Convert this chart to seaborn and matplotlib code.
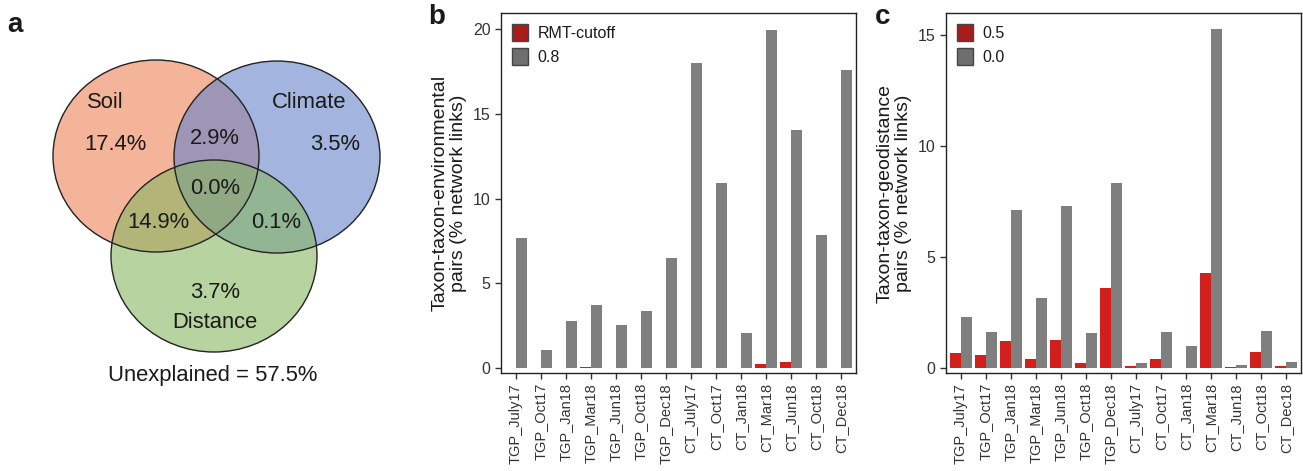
import numpy as np
import pandas as pd
import matplotlib
matplotlib.use('Agg')
import matplotlib.pyplot as plt
from matplotlib.patches import Ellipse, Patch
import seaborn as sns

## data
samples = ['TGP_July17', 'TGP_Oct17', 'TGP_Jan18', 'TGP_Mar18', 'TGP_Jun18', 'TGP_Oct18', 'TGP_Dec18',
           'CT_July17', 'CT_Oct17', 'CT_Jan18', 'CT_Mar18', 'CT_Jun18', 'CT_Oct18', 'CT_Dec18']

# panel b: taxon-taxon-environmental pairs
b_rmt = [0, 0, 0, 0.08, 0, 0, 0, 0, 0, 0, 0.25, 0.35, 0, 0]
b_08 = [7.7, 1.05, 2.8, 3.7, 2.55, 3.4, 6.5, 18.0, 10.95, 2.05, 19.95, 14.05, 7.85, 17.6]

# panel c: taxon-taxon-geodistance pairs
c_05 = [0.7, 0.6, 1.25, 0.4, 1.28, 0.25, 3.6, 0.08, 0.42, 0.02, 4.3, 0.06, 0.75, 0.1]
c_00 = [2.3, 1.65, 7.15, 3.15, 7.3, 1.6, 8.35, 0.25, 1.65, 1.0, 15.3, 0.13, 1.67, 0.27]

# panel a: variance partitioning (venn)
venn_labels = ['Soil', 'Climate', 'Distance']
venn_values = {'Soil': '17.4%', 'Climate': '3.5%', 'Distance': '3.7%',
               'Soil&Climate': '2.9%', 'Soil&Distance': '14.9%', 'Climate&Distance': '0.1%',
               'All': '0.0%'}
unexplained = '57.5%'

RED = '#D21F1B'
GRAY = '#7F7F7F'
INK = '#1A1A1A'

sns.set_theme(style='ticks')
plt.rcParams['font.family'] = ['Liberation Sans', 'DejaVu Sans']
plt.rcParams['text.color'] = INK

fig = plt.figure(figsize=(13.03, 4.71), dpi=100)

## ---- panel a : venn ----
axa = fig.add_axes([0, 0, 400 / 1303, 1])
axa.set_xlim(0, 400)
axa.set_ylim(471, 0)
axa.axis('off')

circ = {'Soil': ((156, 156), '#ED8257'),
        'Climate': ((277, 157), '#6682CA'),
        'Distance': ((214, 256), '#87B661')}
for name in venn_labels:
    (cx, cy), col = circ[name]
    axa.add_patch(Ellipse((cx, cy), 206, 192, facecolor=col, alpha=0.6, edgecolor='none'))
for name in venn_labels:
    (cx, cy), col = circ[name]
    axa.add_patch(Ellipse((cx, cy), 206, 192, facecolor='none', edgecolor='#222222', lw=1.0))

fs = 15.8
axa.text(105, 102, 'Soil', fontsize=fs, ha='center', va='center')
axa.text(309, 102, 'Climate', fontsize=fs, ha='center', va='center')
axa.text(215, 323, 'Distance', fontsize=fs, ha='center', va='center')
axa.text(116, 145, venn_values['Soil'], fontsize=fs, ha='center', va='center')
axa.text(335, 145, venn_values['Climate'], fontsize=fs, ha='center', va='center')
axa.text(215, 293, venn_values['Distance'], fontsize=fs, ha='center', va='center')
axa.text(215, 138, venn_values['Soil&Climate'], fontsize=fs, ha='center', va='center')
axa.text(158, 222, venn_values['Soil&Distance'], fontsize=fs, ha='center', va='center')
axa.text(276, 222, venn_values['Climate&Distance'], fontsize=fs, ha='center', va='center')
axa.text(215, 188, venn_values['All'], fontsize=fs, ha='center', va='center')
axa.text(213, 375, 'Unexplained = ' + unexplained, fontsize=fs, ha='center', va='center')
axa.text(15, 25, 'a', fontsize=20, fontweight='bold', ha='center', va='center')


## ---- bar panels ----
def bar_panel(ax, red_vals, gray_vals, names, ylim, yticks, ylabel):
    df = pd.DataFrame({'sample': samples * 2,
                       'value': list(red_vals) + list(gray_vals),
                       'group': [names[0]] * len(samples) + [names[1]] * len(samples)})
    sns.barplot(data=df, x='sample', y='value', hue='group', hue_order=names,
                palette=[RED, GRAY], width=0.88, ax=ax, legend=False,
                linewidth=0, saturation=1)
    ax.set_xlim(-0.6, len(samples) - 0.4)
    ax.set_ylim(*ylim)
    ax.set_yticks(yticks)
    ax.set_xlabel('')
    ax.set_ylabel(ylabel, fontsize=14, color=INK, linespacing=1.1)
    ax.tick_params(axis='x', rotation=90, labelsize=10.5, length=4, width=1, colors='#333333')
    ax.tick_params(axis='y', labelsize=11.5, length=4, width=1, colors='#333333')
    for s in ax.spines.values():
        s.set_visible(True)
        s.set_color('#222222')
        s.set_linewidth(1.0)
    handles = [Patch(facecolor='#A81C1C', edgecolor='#444444', label=names[0]),
               Patch(facecolor='#6E6E6E', edgecolor='#444444', label=names[1])]
    ax.legend(handles=handles, loc='upper left', frameon=False, fontsize=11.5,
              handlelength=1.0, handleheight=1.2, handletextpad=0.6,
              borderaxespad=0.3, labelspacing=0.45)


axb = fig.add_axes([501 / 1303, 98.3 / 471, 355 / 1303, 359.4 / 471])
bar_panel(axb, b_rmt, b_08, ['RMT-cutoff', '0.8'], (-0.27, 20.94), [0, 5, 10, 15, 20],
          'Taxon-taxon-environmental\npairs (% network links)')
fig.text(437 / 1303, 1 - 17 / 471, 'b', fontsize=20, fontweight='bold', ha='center', va='center')

axc = fig.add_axes([946 / 1303, 98.3 / 471, 355 / 1303, 359.4 / 471])
bar_panel(axc, c_05, c_00, ['0.5', '0.0'], (-0.2, 16.0), [0, 5, 10, 15],
          'Taxon-taxon-geodistance\npairs (% network links)')
fig.text(883 / 1303, 1 - 17 / 471, 'c', fontsize=20, fontweight='bold', ha='center', va='center')

fig.savefig('out.png', dpi=100, facecolor='white')
